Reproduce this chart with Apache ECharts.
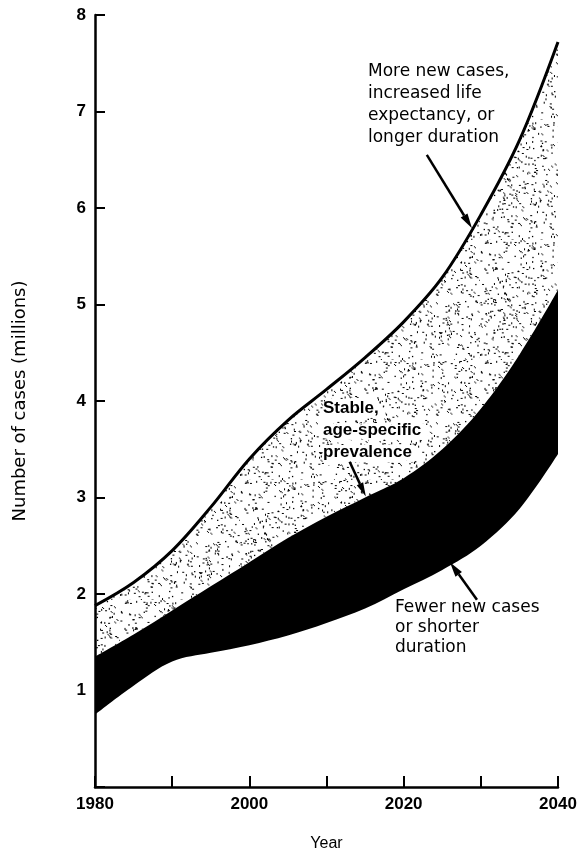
<!DOCTYPE html>
<html>
<head>
<meta charset="utf-8">
<script src="https://cdn.jsdelivr.net/npm/echarts@6/dist/echarts.min.js"></script>
<style>
html,body{margin:0;padding:0;background:#fff;}
#chart{width:580px;height:854px;}
</style>
</head>
<body>
<div id="chart"></div>
<script>
// ---- data ----
const years = ['1980', '1985', '1990', '1995', '2000', '2005', '2010', '2015', '2020', '2025', '2030', '2035', '2040'];
// upper curve: more new cases, increased life expectancy, or longer duration
const upperCases = [1.88, 2.12, 2.45, 2.90, 3.40, 3.80, 4.12, 4.45, 4.82, 5.28, 5.93, 6.70, 7.72];
// middle curve: stable, age-specific prevalence
const stableCases = [1.35, 1.58, 1.83, 2.08, 2.33, 2.58, 2.80, 3.00, 3.20, 3.50, 3.92, 4.48, 5.15];
// lower curve: fewer new cases or shorter duration
const lowerCases = [0.75, 1.05, 1.30, 1.39, 1.47, 1.57, 1.70, 1.85, 2.05, 2.25, 2.50, 2.88, 3.45];
const yTicks = [0, 1, 2, 3, 4, 5, 6, 7, 8];
const xLabelYears = ['1980', '2000', '2020', '2040'];
const xTickYears = ['1980', '1990', '2000', '2010', '2020', '2030', '2040'];

// annotation arrows in data coordinates [year, millions]: [tail, tip]
const arrowMore = [[2023.0, 6.55], [2028.85, 5.79]];
const arrowStable = [[2013.0, 3.37], [2015.1, 3.01]];
const arrowFewer = [[2029.5, 1.94], [2026.0, 2.33]];

// ---- stipple texture ----
function makeStipple() {
  const n = 120;
  const c = document.createElement('canvas');
  c.width = n; c.height = n;
  const g = c.getContext('2d');
  g.fillStyle = '#000';
  let s = 987654;
  function r() { s = (s * 1103515245 + 12345) % 2147483648; return s / 2147483648; }
  for (let i = 0; i < 560; i++) {
    const x = r() * n, y = r() * n;
    const t = r();
    if (t < 0.35) g.fillRect(x, y, 2, 1);
    else if (t < 0.6) g.fillRect(x, y, 1, 2);
    else if (t < 0.8) g.fillRect(x, y, 1.3, 1.3);
    else { g.fillRect(x, y, 1, 1); g.fillRect(x + 1, y + 1, 1, 1); }
  }
  return c;
}
const stipple = makeStipple();

const bandBlack = lowerCases.map((v, i) => +(stableCases[i] - v).toFixed(3));
const bandStip = stableCases.map((v, i) => +(upperCases[i] - v).toFixed(3));

const chart = echarts.init(document.getElementById('chart'), null, {renderer: 'canvas'});
const labelFont = {fontFamily: '"Liberation Sans", Arial, sans-serif', fontSize: 17, fontWeight: 'bold', color: '#000'};

chart.setOption({
  animation: false,
  backgroundColor: '#fff',
  grid: {left: 95, right: 22, top: 15, bottom: 67, containLabel: false, outerBoundsMode: 'none'},
  xAxis: [{
    type: 'category', data: years, boundaryGap: false,
    name: 'Year', nameLocation: 'middle', nameGap: 49,
    nameTextStyle: {fontFamily: '"Liberation Sans", Arial, sans-serif', fontSize: 16, color: '#000'},
    axisLine: {show: true, lineStyle: {color: '#000', width: 2.5}},
    axisTick: {show: true, inside: true, length: 11, lineStyle: {color: '#000', width: 2},
      interval: (i, v) => xTickYears.includes(v)},
    axisLabel: Object.assign({margin: 9, interval: (i, v) => xLabelYears.includes(v)}, labelFont),
    splitLine: {show: false}
  }, {
    // hidden helper axis for placing the annotation arrows by year
    type: 'value', min: 1980, max: 2040, show: false
  }],
  yAxis: {
    type: 'value', min: yTicks[0], max: yTicks[yTicks.length - 1], interval: 1,
    name: 'Number of cases (millions)', nameLocation: 'middle', nameGap: 66, nameRotate: 90,
    nameTextStyle: {fontFamily: '"DejaVu Sans", sans-serif', fontSize: 18, color: '#000'},
    axisLine: {show: true, lineStyle: {color: '#000', width: 2.5}},
    axisTick: {show: true, inside: true, length: 10, lineStyle: {color: '#000', width: 2}},
    axisLabel: Object.assign({margin: 9, formatter: v => v === 0 ? '' : String(v)}, labelFont),
    splitLine: {show: false}
  },
  series: [
    {
      name: 'lower', type: 'line', stack: 'cases', data: lowerCases,
      smooth: 0.35, symbol: 'none', lineStyle: {width: 0, opacity: 0}, silent: true
    },
    {
      name: 'black band', type: 'line', stack: 'cases', data: bandBlack,
      smooth: 0.35, symbol: 'none', lineStyle: {width: 0, opacity: 0},
      areaStyle: {color: '#000', opacity: 1}, silent: true
    },
    {
      name: 'upper', type: 'line', stack: 'cases', data: bandStip,
      smooth: 0.35, symbol: 'none', lineStyle: {width: 3, color: '#000'},
      areaStyle: {color: {image: stipple, repeat: 'repeat'}, opacity: 1}, silent: true
    }
  ]
});

// ---- annotations ----
function px(p) { return chart.convertToPixel({xAxisIndex: 1, yAxisIndex: 0}, p); }
function arrow(seg, headLen, headW) {
  const a = px(seg[0]), b = px(seg[1]);
  const dx = b[0] - a[0], dy = b[1] - a[1];
  const L = Math.sqrt(dx * dx + dy * dy), ux = dx / L, uy = dy / L;
  const bx = b[0] - ux * headLen, by = b[1] - uy * headLen;
  return [
    {type: 'line', z: 120, shape: {x1: a[0], y1: a[1], x2: bx, y2: by},
      style: {stroke: '#000', lineWidth: 2.5}},
    {type: 'polygon', z: 120, shape: {points: [
      [b[0], b[1]], [bx - uy * headW, by + ux * headW], [bx + uy * headW, by - ux * headW]]},
      style: {fill: '#000'}}
  ];
}
const stableText = 'Stable,\nage-specific\nprevalence';
chart.setOption({
  graphic: [
    ...arrow(arrowMore, 15, 4),
    ...arrow(arrowStable, 14, 3.5),
    ...arrow(arrowFewer, 15, 4),
    {type: 'text', left: 368, top: 61, z: 100, style: {
      text: 'More new cases,\nincreased life\nexpectancy, or\nlonger duration',
      font: '17px "DejaVu Sans", sans-serif', lineHeight: 22, fill: '#000'}},
    {type: 'text', left: 395, top: 598, z: 100, style: {
      text: 'Fewer new cases\nor shorter\nduration',
      font: '17px "DejaVu Sans", sans-serif', lineHeight: 20, fill: '#000'}},
    {type: 'text', left: 323, top: 397, z: 100, style: {
      text: stableText,
      font: 'bold 17px "Liberation Sans", Arial, sans-serif', lineHeight: 22,
      fill: '#fff', stroke: '#fff', lineWidth: 8}},
    {type: 'text', left: 323, top: 397, z: 101, style: {
      text: stableText,
      font: 'bold 17px "Liberation Sans", Arial, sans-serif', lineHeight: 22,
      fill: '#000'}}
  ]
});
</script>
</body>
</html>
